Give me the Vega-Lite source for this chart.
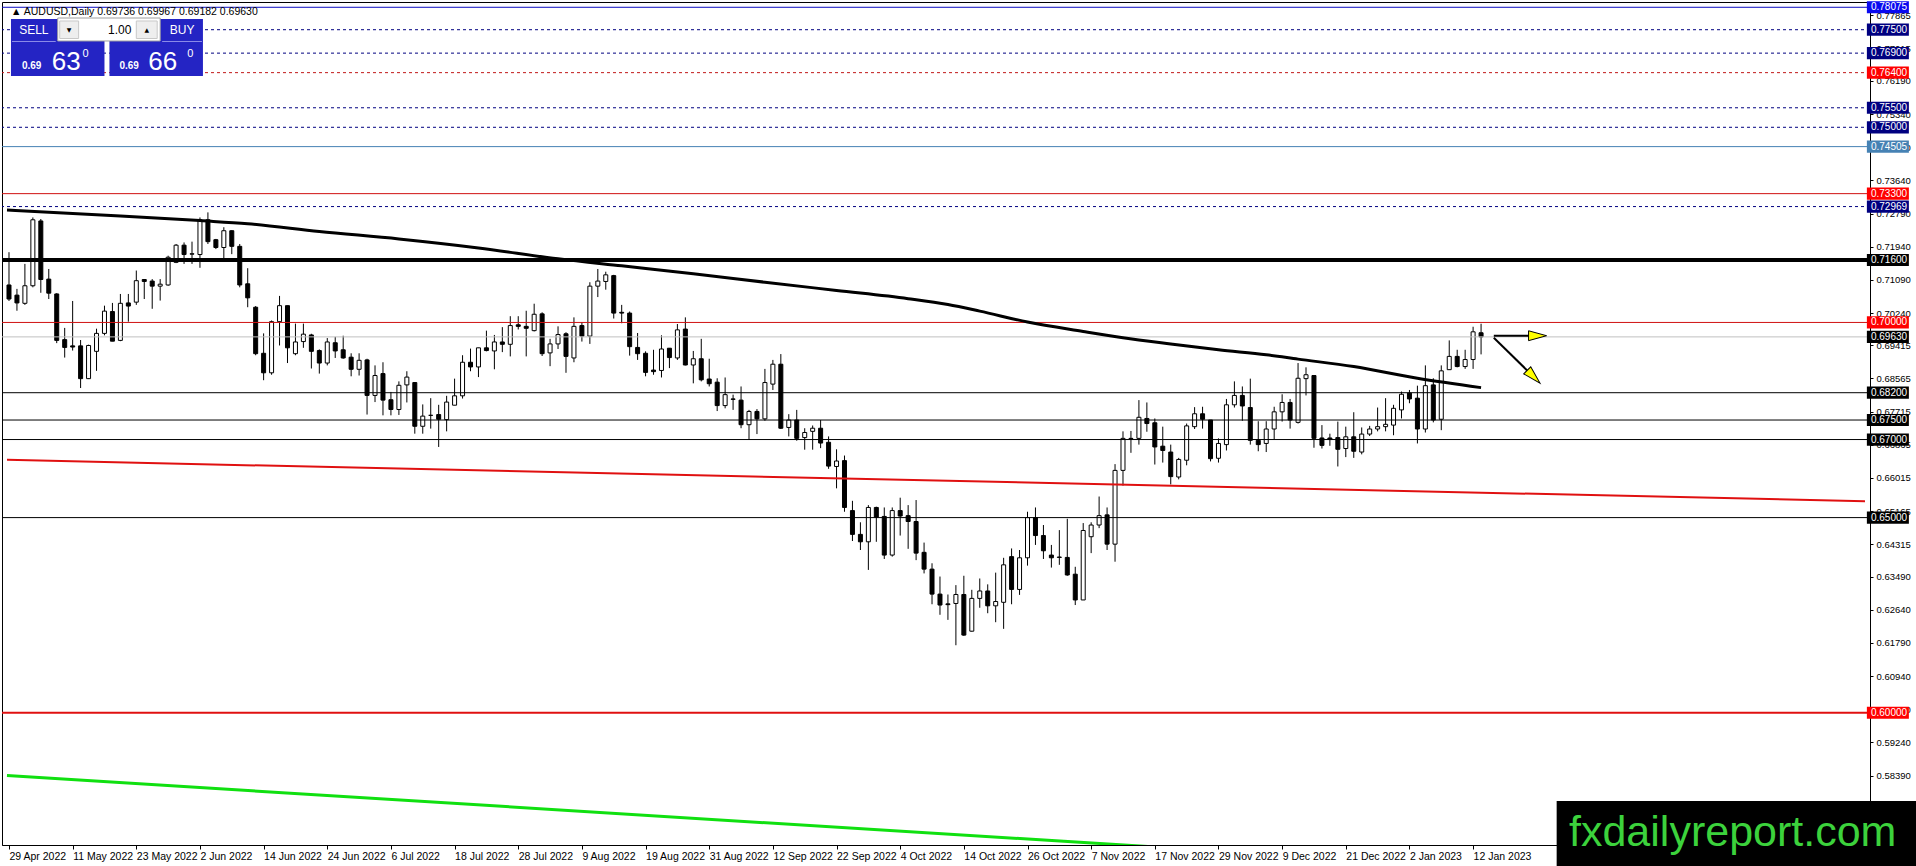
{
  "$schema": "https://vega.github.io/schema/vega-lite/v6.json",
  "width": 1868,
  "height": 843,
  "autosize": {"type": "none"},
  "padding": {"left": 2, "top": 2, "right": 46, "bottom": 21},
  "background": "#ffffff",
  "datasets": {
    "bars": [
      {"i":0,"o":0.7096,"h":0.7180,"l":0.7055,"c":0.7060},
      {"i":1,"o":0.7070,"h":0.7086,"l":0.7030,"c":0.7050},
      {"i":2,"o":0.7049,"h":0.7150,"l":0.7045,"c":0.7094},
      {"i":3,"o":0.7094,"h":0.7269,"l":0.7090,"c":0.7263},
      {"i":4,"o":0.7260,"h":0.7265,"l":0.7076,"c":0.7110},
      {"i":5,"o":0.7111,"h":0.7137,"l":0.7060,"c":0.7075},
      {"i":6,"o":0.7073,"h":0.7075,"l":0.6947,"c":0.6954},
      {"i":7,"o":0.6956,"h":0.6986,"l":0.6910,"c":0.6936},
      {"i":8,"o":0.6940,"h":0.7055,"l":0.6928,"c":0.6937},
      {"i":9,"o":0.6940,"h":0.6955,"l":0.6832,"c":0.6856},
      {"i":10,"o":0.6856,"h":0.6943,"l":0.6855,"c":0.6941},
      {"i":11,"o":0.6926,"h":0.6984,"l":0.6876,"c":0.6972},
      {"i":12,"o":0.6972,"h":0.7043,"l":0.6967,"c":0.7029},
      {"i":13,"o":0.7028,"h":0.7050,"l":0.6952,"c":0.6952},
      {"i":14,"o":0.6954,"h":0.7073,"l":0.6952,"c":0.7049},
      {"i":15,"o":0.7050,"h":0.7073,"l":0.7002,"c":0.7042},
      {"i":16,"o":0.7052,"h":0.7133,"l":0.7045,"c":0.7107},
      {"i":17,"o":0.7110,"h":0.7111,"l":0.7060,"c":0.7105},
      {"i":18,"o":0.7106,"h":0.7111,"l":0.7035,"c":0.7093},
      {"i":19,"o":0.7093,"h":0.7111,"l":0.7056,"c":0.7098},
      {"i":20,"o":0.7096,"h":0.7171,"l":0.7094,"c":0.7167},
      {"i":21,"o":0.7154,"h":0.7201,"l":0.7152,"c":0.7198},
      {"i":22,"o":0.7198,"h":0.7205,"l":0.7150,"c":0.7174},
      {"i":23,"o":0.7175,"h":0.7207,"l":0.7150,"c":0.7176},
      {"i":24,"o":0.7174,"h":0.7269,"l":0.7140,"c":0.7263},
      {"i":25,"o":0.7263,"h":0.7282,"l":0.7201,"c":0.7207},
      {"i":26,"o":0.7212,"h":0.7214,"l":0.7188,"c":0.7192},
      {"i":27,"o":0.7192,"h":0.7244,"l":0.7164,"c":0.7235},
      {"i":28,"o":0.7235,"h":0.7236,"l":0.7175,"c":0.7195},
      {"i":29,"o":0.7195,"h":0.7201,"l":0.7090,"c":0.7096},
      {"i":30,"o":0.7099,"h":0.7139,"l":0.7039,"c":0.7063},
      {"i":31,"o":0.7039,"h":0.7042,"l":0.6916,"c":0.6920},
      {"i":32,"o":0.6921,"h":0.6972,"l":0.6852,"c":0.6871},
      {"i":33,"o":0.6871,"h":0.7005,"l":0.6866,"c":0.7002},
      {"i":34,"o":0.7002,"h":0.7068,"l":0.6941,"c":0.7043},
      {"i":35,"o":0.7043,"h":0.7043,"l":0.6896,"c":0.6935},
      {"i":36,"o":0.6920,"h":0.6997,"l":0.6916,"c":0.6950},
      {"i":37,"o":0.6951,"h":0.6997,"l":0.6935,"c":0.6970},
      {"i":38,"o":0.6968,"h":0.6971,"l":0.6882,"c":0.6926},
      {"i":39,"o":0.6928,"h":0.6931,"l":0.6869,"c":0.6896},
      {"i":40,"o":0.6896,"h":0.6960,"l":0.6890,"c":0.6950},
      {"i":41,"o":0.6948,"h":0.6963,"l":0.6909,"c":0.6927},
      {"i":42,"o":0.6930,"h":0.6966,"l":0.6907,"c":0.6909},
      {"i":43,"o":0.6911,"h":0.6921,"l":0.6862,"c":0.6880},
      {"i":44,"o":0.6880,"h":0.6921,"l":0.6864,"c":0.6903},
      {"i":45,"o":0.6904,"h":0.6907,"l":0.6764,"c":0.6813},
      {"i":46,"o":0.6813,"h":0.6890,"l":0.6796,"c":0.6864},
      {"i":47,"o":0.6869,"h":0.6898,"l":0.6762,"c":0.6801},
      {"i":48,"o":0.6802,"h":0.6822,"l":0.6762,"c":0.6777},
      {"i":49,"o":0.6777,"h":0.6849,"l":0.6763,"c":0.6839},
      {"i":50,"o":0.6840,"h":0.6875,"l":0.6795,"c":0.6860},
      {"i":51,"o":0.6846,"h":0.6847,"l":0.6715,"c":0.6734},
      {"i":52,"o":0.6734,"h":0.6790,"l":0.6715,"c":0.6760},
      {"i":53,"o":0.6762,"h":0.6806,"l":0.6728,"c":0.6762},
      {"i":54,"o":0.6764,"h":0.6789,"l":0.6681,"c":0.6752},
      {"i":55,"o":0.6751,"h":0.6812,"l":0.6721,"c":0.6796},
      {"i":56,"o":0.6788,"h":0.6856,"l":0.6788,"c":0.6812},
      {"i":57,"o":0.6812,"h":0.6916,"l":0.6805,"c":0.6898},
      {"i":58,"o":0.6898,"h":0.6933,"l":0.6875,"c":0.6886},
      {"i":59,"o":0.6886,"h":0.6935,"l":0.6860,"c":0.6935},
      {"i":60,"o":0.6935,"h":0.6979,"l":0.6926,"c":0.6928},
      {"i":61,"o":0.6927,"h":0.6968,"l":0.6880,"c":0.6950},
      {"i":62,"o":0.6950,"h":0.6988,"l":0.6924,"c":0.6944},
      {"i":63,"o":0.6944,"h":0.7016,"l":0.6913,"c":0.6992},
      {"i":64,"o":0.6994,"h":0.7016,"l":0.6982,"c":0.6990},
      {"i":65,"o":0.6990,"h":0.7030,"l":0.6913,"c":0.6985},
      {"i":66,"o":0.6979,"h":0.7048,"l":0.6977,"c":0.7021},
      {"i":67,"o":0.7022,"h":0.7026,"l":0.6914,"c":0.6920},
      {"i":68,"o":0.6922,"h":0.6958,"l":0.6888,"c":0.6945},
      {"i":69,"o":0.6945,"h":0.6990,"l":0.6932,"c":0.6969},
      {"i":70,"o":0.6971,"h":0.6975,"l":0.6871,"c":0.6913},
      {"i":71,"o":0.6909,"h":0.7013,"l":0.6898,"c":0.6990},
      {"i":72,"o":0.6992,"h":0.7001,"l":0.6951,"c":0.6965},
      {"i":73,"o":0.6965,"h":0.7103,"l":0.6945,"c":0.7093},
      {"i":74,"o":0.7093,"h":0.7137,"l":0.7065,"c":0.7106},
      {"i":75,"o":0.7105,"h":0.7130,"l":0.7084,"c":0.7122},
      {"i":76,"o":0.7120,"h":0.7122,"l":0.7010,"c":0.7024},
      {"i":77,"o":0.7026,"h":0.7045,"l":0.6998,"c":0.7024},
      {"i":78,"o":0.7024,"h":0.7028,"l":0.6915,"c":0.6938},
      {"i":79,"o":0.6936,"h":0.6973,"l":0.6904,"c":0.6920},
      {"i":80,"o":0.6921,"h":0.6926,"l":0.6862,"c":0.6872},
      {"i":81,"o":0.6878,"h":0.6930,"l":0.6866,"c":0.6874},
      {"i":82,"o":0.6877,"h":0.6967,"l":0.6859,"c":0.6932},
      {"i":83,"o":0.6934,"h":0.6934,"l":0.6883,"c":0.6910},
      {"i":84,"o":0.6909,"h":0.6996,"l":0.6904,"c":0.6981},
      {"i":85,"o":0.6983,"h":0.7013,"l":0.6890,"c":0.6891},
      {"i":86,"o":0.6891,"h":0.6927,"l":0.6844,"c":0.6907},
      {"i":87,"o":0.6907,"h":0.6958,"l":0.6849,"c":0.6853},
      {"i":88,"o":0.6855,"h":0.6907,"l":0.6836,"c":0.6843},
      {"i":89,"o":0.6847,"h":0.6857,"l":0.6773,"c":0.6787},
      {"i":90,"o":0.6787,"h":0.6859,"l":0.6780,"c":0.6815},
      {"i":91,"o":0.6804,"h":0.6815,"l":0.6776,"c":0.6803},
      {"i":92,"o":0.6801,"h":0.6836,"l":0.6729,"c":0.6738},
      {"i":93,"o":0.6738,"h":0.6776,"l":0.6699,"c":0.6772},
      {"i":94,"o":0.6772,"h":0.6778,"l":0.6714,"c":0.6753},
      {"i":95,"o":0.6753,"h":0.6881,"l":0.6748,"c":0.6846},
      {"i":96,"o":0.6842,"h":0.6904,"l":0.6827,"c":0.6893},
      {"i":97,"o":0.6893,"h":0.6919,"l":0.6727,"c":0.6729},
      {"i":98,"o":0.6731,"h":0.6765,"l":0.6708,"c":0.6750},
      {"i":99,"o":0.6750,"h":0.6776,"l":0.6697,"c":0.6703},
      {"i":100,"o":0.6705,"h":0.6729,"l":0.6674,"c":0.6718},
      {"i":101,"o":0.6721,"h":0.6736,"l":0.6674,"c":0.6729},
      {"i":102,"o":0.6729,"h":0.6750,"l":0.6678,"c":0.6691},
      {"i":103,"o":0.6693,"h":0.6708,"l":0.6625,"c":0.6632},
      {"i":104,"o":0.6631,"h":0.6675,"l":0.6575,"c":0.6645},
      {"i":105,"o":0.6646,"h":0.6659,"l":0.6515,"c":0.6526},
      {"i":106,"o":0.6518,"h":0.6543,"l":0.6440,"c":0.6457},
      {"i":107,"o":0.6457,"h":0.6488,"l":0.6417,"c":0.6438},
      {"i":108,"o":0.6438,"h":0.6532,"l":0.6366,"c":0.6526},
      {"i":109,"o":0.6526,"h":0.6528,"l":0.6438,"c":0.6501},
      {"i":110,"o":0.6503,"h":0.6526,"l":0.6394,"c":0.6404},
      {"i":111,"o":0.6404,"h":0.6526,"l":0.6400,"c":0.6518},
      {"i":112,"o":0.6518,"h":0.6551,"l":0.6454,"c":0.6504},
      {"i":113,"o":0.6505,"h":0.6532,"l":0.6420,"c":0.6490},
      {"i":114,"o":0.6490,"h":0.6545,"l":0.6391,"c":0.6409},
      {"i":115,"o":0.6411,"h":0.6436,"l":0.6357,"c":0.6368},
      {"i":116,"o":0.6368,"h":0.6383,"l":0.6278,"c":0.6304},
      {"i":117,"o":0.6304,"h":0.6349,"l":0.6251,"c":0.6276},
      {"i":118,"o":0.6279,"h":0.6303,"l":0.6238,"c":0.6277},
      {"i":119,"o":0.6280,"h":0.6327,"l":0.6173,"c":0.6303},
      {"i":120,"o":0.6303,"h":0.6351,"l":0.6197,"c":0.6199},
      {"i":121,"o":0.6209,"h":0.6315,"l":0.6208,"c":0.6293},
      {"i":122,"o":0.6293,"h":0.6344,"l":0.6269,"c":0.6312},
      {"i":123,"o":0.6312,"h":0.6329,"l":0.6255,"c":0.6274},
      {"i":124,"o":0.6274,"h":0.6359,"l":0.6232,"c":0.6285},
      {"i":125,"o":0.6283,"h":0.6397,"l":0.6215,"c":0.6379},
      {"i":126,"o":0.6400,"h":0.6421,"l":0.6278,"c":0.6316},
      {"i":127,"o":0.6316,"h":0.6417,"l":0.6302,"c":0.6397},
      {"i":128,"o":0.6397,"h":0.6515,"l":0.6377,"c":0.6500},
      {"i":129,"o":0.6500,"h":0.6526,"l":0.6430,"c":0.6454},
      {"i":130,"o":0.6454,"h":0.6481,"l":0.6394,"c":0.6415},
      {"i":131,"o":0.6404,"h":0.6430,"l":0.6372,"c":0.6397},
      {"i":132,"o":0.6399,"h":0.6468,"l":0.6379,"c":0.6398},
      {"i":133,"o":0.6398,"h":0.6497,"l":0.6351,"c":0.6353},
      {"i":134,"o":0.6355,"h":0.6374,"l":0.6276,"c":0.6289},
      {"i":135,"o":0.6289,"h":0.6486,"l":0.6289,"c":0.6467},
      {"i":136,"o":0.6451,"h":0.6488,"l":0.6409,"c":0.6481},
      {"i":137,"o":0.6481,"h":0.6554,"l":0.6473,"c":0.6505},
      {"i":138,"o":0.6507,"h":0.6526,"l":0.6417,"c":0.6432},
      {"i":139,"o":0.6432,"h":0.6637,"l":0.6387,"c":0.6621},
      {"i":140,"o":0.6621,"h":0.6721,"l":0.6582,"c":0.6703},
      {"i":141,"o":0.6703,"h":0.6722,"l":0.6666,"c":0.6702},
      {"i":142,"o":0.6703,"h":0.6801,"l":0.6687,"c":0.6757},
      {"i":143,"o":0.6754,"h":0.6795,"l":0.6720,"c":0.6741},
      {"i":144,"o":0.6743,"h":0.6754,"l":0.6636,"c":0.6681},
      {"i":145,"o":0.6683,"h":0.6733,"l":0.6641,"c":0.6672},
      {"i":146,"o":0.6668,"h":0.6687,"l":0.6585,"c":0.6605},
      {"i":147,"o":0.6604,"h":0.6653,"l":0.6598,"c":0.6649},
      {"i":148,"o":0.6647,"h":0.6741,"l":0.6634,"c":0.6735},
      {"i":149,"o":0.6733,"h":0.6783,"l":0.6727,"c":0.6766},
      {"i":150,"o":0.6766,"h":0.6784,"l":0.6728,"c":0.6752},
      {"i":151,"o":0.6750,"h":0.6750,"l":0.6644,"c":0.6651},
      {"i":152,"o":0.6652,"h":0.6703,"l":0.6641,"c":0.6690},
      {"i":153,"o":0.6687,"h":0.6804,"l":0.6672,"c":0.6789},
      {"i":154,"o":0.6789,"h":0.6849,"l":0.6782,"c":0.6813},
      {"i":155,"o":0.6813,"h":0.6836,"l":0.6748,"c":0.6786},
      {"i":156,"o":0.6782,"h":0.6856,"l":0.6687,"c":0.6698},
      {"i":157,"o":0.6698,"h":0.6747,"l":0.6670,"c":0.6687},
      {"i":158,"o":0.6690,"h":0.6747,"l":0.6668,"c":0.6727},
      {"i":159,"o":0.6727,"h":0.6784,"l":0.6700,"c":0.6771},
      {"i":160,"o":0.6771,"h":0.6816,"l":0.6746,"c":0.6795},
      {"i":161,"o":0.6795,"h":0.6804,"l":0.6728,"c":0.6750},
      {"i":162,"o":0.6744,"h":0.6896,"l":0.6741,"c":0.6857},
      {"i":163,"o":0.6856,"h":0.6885,"l":0.6813,"c":0.6866},
      {"i":164,"o":0.6864,"h":0.6864,"l":0.6679,"c":0.6703},
      {"i":165,"o":0.6704,"h":0.6737,"l":0.6677,"c":0.6685},
      {"i":166,"o":0.6704,"h":0.6715,"l":0.6684,"c":0.6700},
      {"i":167,"o":0.6705,"h":0.6746,"l":0.6631,"c":0.6675},
      {"i":168,"o":0.6677,"h":0.6733,"l":0.6655,"c":0.6707},
      {"i":169,"o":0.6707,"h":0.6770,"l":0.6653,"c":0.6670},
      {"i":170,"o":0.6668,"h":0.6731,"l":0.6662,"c":0.6714},
      {"i":171,"o":0.6714,"h":0.6735,"l":0.6709,"c":0.6727},
      {"i":172,"o":0.6727,"h":0.6782,"l":0.6721,"c":0.6733},
      {"i":173,"o":0.6733,"h":0.6806,"l":0.6721,"c":0.6739},
      {"i":174,"o":0.6737,"h":0.6789,"l":0.6711,"c":0.6780},
      {"i":175,"o":0.6776,"h":0.6823,"l":0.6754,"c":0.6816},
      {"i":176,"o":0.6819,"h":0.6827,"l":0.6793,"c":0.6804},
      {"i":177,"o":0.6806,"h":0.6838,"l":0.6690,"c":0.6727},
      {"i":178,"o":0.6727,"h":0.6890,"l":0.6718,"c":0.6838},
      {"i":179,"o":0.6840,"h":0.6857,"l":0.6744,"c":0.6750},
      {"i":180,"o":0.6752,"h":0.6890,"l":0.6724,"c":0.6876},
      {"i":181,"o":0.6879,"h":0.6954,"l":0.6879,"c":0.6913},
      {"i":182,"o":0.6913,"h":0.6930,"l":0.6885,"c":0.6887},
      {"i":183,"o":0.6887,"h":0.6930,"l":0.6881,"c":0.6905},
      {"i":184,"o":0.6905,"h":0.6989,"l":0.6881,"c":0.6976},
      {"i":185,"o":0.69736,"h":0.69967,"l":0.69182,"c":0.69630}
    ],
    "ma": [
      {"i":-0.25,"v":0.7288},{"i":14,"v":0.7273},{"i":24,"v":0.7261},{"i":30,"v":0.7253},
      {"i":39,"v":0.7233},{"i":49,"v":0.7214},{"i":59,"v":0.7191},{"i":69,"v":0.7163},
      {"i":77,"v":0.7145},{"i":86,"v":0.7125},{"i":95,"v":0.7103},{"i":104,"v":0.7082},
      {"i":113,"v":0.7061},{"i":118,"v":0.7046},{"i":122,"v":0.7029},{"i":128,"v":0.7001},
      {"i":135,"v":0.6977},{"i":140,"v":0.6961},{"i":146,"v":0.6945},{"i":152,"v":0.6930},
      {"i":158,"v":0.6917},{"i":162,"v":0.6906},{"i":169,"v":0.6887},{"i":177,"v":0.6857},
      {"i":185,"v":0.6833}
    ],
    "trend": [
      {"line":"red","i":-0.25,"v":0.6648},
      {"line":"red","i":233.25,"v":0.6542},
      {"line":"green","i":-0.25,"v":0.5839},
      {"line":"green","i":145,"v":0.5655}
    ],
    "levels": [
      {"p":0.78075,"k":"top"},
      {"p":0.775,"k":"navy"},
      {"p":0.769,"k":"navy"},
      {"p":0.764,"k":"reddash"},
      {"p":0.755,"k":"navy"},
      {"p":0.75,"k":"navy"},
      {"p":0.74505,"k":"steel"},
      {"p":0.733,"k":"red"},
      {"p":0.72969,"k":"navy"},
      {"p":0.716,"k":"thick"},
      {"p":0.70,"k":"red"},
      {"p":0.6963,"k":"bid"},
      {"p":0.682,"k":"black"},
      {"p":0.675,"k":"black"},
      {"p":0.67,"k":"black"},
      {"p":0.65,"k":"black"},
      {"p":0.60,"k":"red2"}
    ]
  },
  "layer": [
    {
      "data": {"name": "bars"},
      "mark": {"type": "rule", "color": "#000000", "strokeWidth": 1},
      "encoding": {
        "x": {
          "field": "i", "type": "quantitative", "title": null,
          "scale": {"domain": [-0.25, 233.25], "nice": false, "zero": false},
          "axis": {
            "orient": "bottom", "title": null, "grid": false, "tickCount": 40,
            "values": [0,8,16,24,32,40,48,56,64,72,80,88,96,104,112,120,128,136,144,152,160,168,176,184],
            "labelExpr": "['29 Apr 2022','11 May 2022','23 May 2022','2 Jun 2022','14 Jun 2022','24 Jun 2022','6 Jul 2022','18 Jul 2022','28 Jul 2022','9 Aug 2022','19 Aug 2022','31 Aug 2022','12 Sep 2022','22 Sep 2022','4 Oct 2022','14 Oct 2022','26 Oct 2022','7 Nov 2022','17 Nov 2022','29 Nov 2022','9 Dec 2022','21 Dec 2022','2 Jan 2023','12 Jan 2023'][round(datum.value/8)]",
            "labelAlign": "left", "labelDx": 1, "labelFontSize": 10.5, "labelPadding": 2,
            "tickSize": 4, "labelOverlap": false, "labelFlush": false, "labelBound": false
          }
        },
        "y": {
          "field": "l", "type": "quantitative", "title": null,
          "scale": {"domain": [0.56612, 0.7821], "nice": false, "zero": false},
          "axis": {
            "orient": "right", "title": null, "grid": false, "format": ".5f", "tickCount": 40,
            "values": [0.77865,0.77015,0.7619,0.7534,0.7449,0.7364,0.7279,0.7194,0.7109,0.7024,0.69415,0.68565,0.67715,0.66865,0.66015,0.65165,0.64315,0.6349,0.6264,0.6179,0.6094,0.6009,0.5924,0.5839,0.5754],
            "labelFontSize": 9.5, "tickSize": 3, "labelPadding": 3,
            "labelOverlap": false, "labelFlush": false, "labelBound": false
          }
        },
        "y2": {"field": "h"}
      }
    },
    {
      "data": {"name": "bars"},
      "mark": {"type": "bar", "width": 4, "stroke": "#000000", "strokeWidth": 1},
      "encoding": {
        "x": {"field": "i", "type": "quantitative", "title": null},
        "y": {"field": "o", "type": "quantitative", "title": null},
        "y2": {"field": "c"},
        "fill": {"condition": {"test": "datum.c < datum.o", "value": "#000000"}, "value": "#ffffff"}
      }
    },
    {
      "data": {"name": "levels"},
      "transform": [{"filter": "indexof(['top','steel','red','bid','black'], datum.k) >= 0"}],
      "mark": {"type": "rule", "strokeWidth": 1},
      "encoding": {
        "y": {"field": "p", "type": "quantitative", "title": null},
        "color": {
          "field": "k", "type": "nominal", "legend": null,
          "scale": {
            "domain": ["top","navy","reddash","steel","red","thick","bid","black","red2"],
            "range": ["#0a0ac0","#000080","#c01818","#4682b4","#d01010","#000000","#c0c0c0","#000000","#e01010"]
          }
        }
      }
    },
    {
      "data": {"name": "levels"},
      "transform": [{"filter": "datum.k == 'navy' || datum.k == 'reddash'"}],
      "mark": {"type": "rule", "strokeWidth": 1, "strokeDash": [3, 3]},
      "encoding": {
        "y": {"field": "p", "type": "quantitative", "title": null},
        "color": {
          "field": "k", "type": "nominal", "legend": null,
          "scale": {
            "domain": ["top","navy","reddash","steel","red","thick","bid","black","red2"],
            "range": ["#0a0ac0","#000080","#c01818","#4682b4","#d01010","#000000","#c0c0c0","#000000","#e01010"]
          }
        }
      }
    },
    {
      "data": {"name": "levels"},
      "transform": [{"filter": "datum.k == 'thick'"}],
      "mark": {"type": "rule", "strokeWidth": 4, "color": "#000000"},
      "encoding": {"y": {"field": "p", "type": "quantitative", "title": null}}
    },
    {
      "data": {"name": "levels"},
      "transform": [{"filter": "datum.k == 'red2'"}],
      "mark": {"type": "rule", "strokeWidth": 2, "color": "#e01010"},
      "encoding": {"y": {"field": "p", "type": "quantitative", "title": null}}
    },
    {
      "data": {"name": "trend"},
      "transform": [{"filter": "datum.line == 'red'"}],
      "mark": {"type": "line", "strokeWidth": 2, "color": "#e01010", "clip": true},
      "encoding": {
        "x": {"field": "i", "type": "quantitative", "title": null},
        "y": {"field": "v", "type": "quantitative", "title": null}
      }
    },
    {
      "data": {"name": "trend"},
      "transform": [{"filter": "datum.line == 'green'"}],
      "mark": {"type": "line", "strokeWidth": 3, "color": "#10e010", "clip": true},
      "encoding": {
        "x": {"field": "i", "type": "quantitative", "title": null},
        "y": {"field": "v", "type": "quantitative", "title": null}
      }
    },
    {
      "data": {"name": "ma"},
      "mark": {"type": "line", "strokeWidth": 3, "color": "#000000", "interpolate": "monotone"},
      "encoding": {
        "x": {"field": "i", "type": "quantitative", "title": null},
        "y": {"field": "v", "type": "quantitative", "title": null}
      }
    },
    {
      "data": {"values": [{}]},
      "mark": {"type": "rule", "strokeWidth": 2, "color": "#000000"},
      "encoding": {
        "x": {"datum": 186.6, "type": "quantitative", "title": null},
        "x2": {"datum": 191.5},
        "y": {"datum": 0.6966, "type": "quantitative", "title": null}
      }
    },
    {
      "data": {"values": [{}]},
      "mark": {"type": "rule", "strokeWidth": 2, "color": "#000000"},
      "encoding": {
        "x": {"datum": 186.6, "type": "quantitative", "title": null},
        "x2": {"datum": 191.6},
        "y": {"datum": 0.6961, "type": "quantitative", "title": null},
        "y2": {"datum": 0.6861}
      }
    },
    {
      "data": {"values": [{}]},
      "mark": {"type": "point", "shape": "M-1,-0.55L1,0L-1,0.55Z", "size": 324, "filled": true, "fill": "#ffff00", "stroke": "#000000", "strokeWidth": 1, "opacity": 1, "angle": 0},
      "encoding": {
        "x": {"datum": 192.1, "type": "quantitative", "title": null},
        "y": {"datum": 0.6966, "type": "quantitative", "title": null}
      }
    },
    {
      "data": {"values": [{}]},
      "mark": {"type": "point", "shape": "M-1,-0.55L1,0L-1,0.55Z", "size": 324, "filled": true, "fill": "#ffff00", "stroke": "#000000", "strokeWidth": 1, "opacity": 1, "angle": 45},
      "encoding": {
        "x": {"datum": 191.6, "type": "quantitative", "title": null},
        "y": {"datum": 0.6861, "type": "quantitative", "title": null}
      }
    },
    {
      "data": {"name": "levels"},
      "mark": {"type": "point", "shape": "M-1,-0.29L1,-0.29L1,0.29L-1,0.29Z", "size": 1764, "filled": true, "opacity": 1, "strokeWidth": 0},
      "encoding": {
        "x": {"datum": 236.125, "type": "quantitative", "title": null},
        "y": {"field": "p", "type": "quantitative", "title": null},
        "fill": {
          "field": "k", "type": "nominal", "legend": null,
          "scale": {
            "domain": ["top","navy","reddash","steel","red","thick","bid","black","red2"],
            "range": ["#0a0af0","#000080","#ff0000","#4682b4","#ff0000","#000000","#000000","#000000","#ff0000"]
          }
        }
      }
    },
    {
      "data": {"name": "levels"},
      "mark": {"type": "text", "align": "left", "baseline": "middle", "font": "Liberation Sans", "fontSize": 10, "color": "#ffffff"},
      "encoding": {
        "x": {"datum": 234.0, "type": "quantitative", "title": null},
        "y": {"field": "p", "type": "quantitative", "title": null},
        "text": {"field": "p", "type": "quantitative", "format": ".5f"}
      }
    },
    {
      "data": {"values": [{}]},
      "mark": {"type": "rect", "fill": "#000000"},
      "encoding": {
        "x": {"datum": 194.5, "type": "quantitative", "title": null},
        "x2": {"datum": 240.1},
        "y": {"datum": 0.57739, "type": "quantitative", "title": null},
        "y2": {"datum": 0.55971}
      }
    },
    {
      "data": {"values": [{}]},
      "mark": {"type": "text", "text": "fxdailyreport.com", "align": "center", "baseline": "middle", "font": "Liberation Sans", "fontSize": 43, "color": "#3cd23c"},
      "encoding": {
        "x": {"datum": 216.625, "type": "quantitative", "title": null},
        "y": {"datum": 0.56919, "type": "quantitative", "title": null}
      }
    },
    {
      "data": {"values": [{}]},
      "mark": {"type": "rect", "fill": "#2424c4"},
      "encoding": {
        "x": {"datum": 0.25, "type": "quantitative", "title": null},
        "x2": {"datum": 12.0},
        "y": {"datum": 0.77775, "type": "quantitative", "title": null},
        "y2": {"datum": 0.76314}
      }
    },
    {
      "data": {"values": [{}]},
      "mark": {"type": "rect", "fill": "#2424c4"},
      "encoding": {
        "x": {"datum": 12.625, "type": "quantitative", "title": null},
        "x2": {"datum": 24.375},
        "y": {"datum": 0.77775, "type": "quantitative", "title": null},
        "y2": {"datum": 0.76314}
      }
    },
    {
      "data": {"values": [{}]},
      "mark": {"type": "rule", "color": "#8c8ce8", "strokeWidth": 1},
      "encoding": {
        "x": {"datum": 0.375, "type": "quantitative", "title": null},
        "x2": {"datum": 5.875},
        "y": {"datum": 0.77198, "type": "quantitative", "title": null}
      }
    },
    {
      "data": {"values": [{}]},
      "mark": {"type": "rule", "color": "#8c8ce8", "strokeWidth": 1},
      "encoding": {
        "x": {"datum": 19.25, "type": "quantitative", "title": null},
        "x2": {"datum": 24.25},
        "y": {"datum": 0.77198, "type": "quantitative", "title": null}
      }
    },
    {
      "data": {"values": [{}]},
      "mark": {"type": "rect", "fill": "#ffffff", "stroke": "#a0a0a0", "strokeWidth": 1},
      "encoding": {
        "x": {"datum": 6.125, "type": "quantitative", "title": null},
        "x2": {"datum": 19.0},
        "y": {"datum": 0.778, "type": "quantitative", "title": null},
        "y2": {"datum": 0.77211}
      }
    },
    {
      "data": {"values": [{}]},
      "mark": {"type": "rect", "fill": "#eeeeee", "stroke": "#c8c8c8", "strokeWidth": 1},
      "encoding": {
        "x": {"datum": 6.375, "type": "quantitative", "title": null},
        "x2": {"datum": 8.75},
        "y": {"datum": 0.77724, "type": "quantitative", "title": null},
        "y2": {"datum": 0.77275}
      }
    },
    {
      "data": {"values": [{}]},
      "mark": {"type": "rect", "fill": "#eeeeee", "stroke": "#c8c8c8", "strokeWidth": 1},
      "encoding": {
        "x": {"datum": 16.0, "type": "quantitative", "title": null},
        "x2": {"datum": 18.625},
        "y": {"datum": 0.77724, "type": "quantitative", "title": null},
        "y2": {"datum": 0.77275}
      }
    },
    {
      "data": {"values": [{}]},
      "mark": {"type": "text", "text": "SELL", "align": "center", "baseline": "middle", "font": "Liberation Sans", "fontSize": 12, "color": "#ffffff"},
      "encoding": {
        "x": {"datum": 3.125, "type": "quantitative", "title": null},
        "y": {"datum": 0.7748, "type": "quantitative", "title": null}
      }
    },
    {
      "data": {"values": [{}]},
      "mark": {"type": "text", "text": "BUY", "align": "center", "baseline": "middle", "font": "Liberation Sans", "fontSize": 12, "color": "#ffffff"},
      "encoding": {
        "x": {"datum": 21.75, "type": "quantitative", "title": null},
        "y": {"datum": 0.7748, "type": "quantitative", "title": null}
      }
    },
    {
      "data": {"values": [{}]},
      "mark": {"type": "text", "text": "1.00", "align": "right", "baseline": "middle", "font": "Liberation Sans", "fontSize": 12, "color": "#000000"},
      "encoding": {
        "x": {"datum": 15.375, "type": "quantitative", "title": null},
        "y": {"datum": 0.7748, "type": "quantitative", "title": null}
      }
    },
    {
      "data": {"values": [{}]},
      "mark": {"type": "text", "text": "▼", "align": "center", "baseline": "middle", "font": "DejaVu Sans", "fontSize": 6, "color": "#000000"},
      "encoding": {
        "x": {"datum": 7.5625, "type": "quantitative", "title": null},
        "y": {"datum": 0.7748, "type": "quantitative", "title": null}
      }
    },
    {
      "data": {"values": [{}]},
      "mark": {"type": "text", "text": "▲", "align": "center", "baseline": "middle", "font": "DejaVu Sans", "fontSize": 6, "color": "#000000"},
      "encoding": {
        "x": {"datum": 17.3125, "type": "quantitative", "title": null},
        "y": {"datum": 0.7748, "type": "quantitative", "title": null}
      }
    },
    {
      "data": {"values": [{}]},
      "mark": {"type": "text", "text": "0.69", "align": "left", "baseline": "alphabetic", "font": "Liberation Sans", "fontSize": 10, "fontWeight": "bold", "color": "#ffffff"},
      "encoding": {
        "x": {"datum": 1.625, "type": "quantitative", "title": null},
        "y": {"datum": 0.76494, "type": "quantitative", "title": null}
      }
    },
    {
      "data": {"values": [{}]},
      "mark": {"type": "text", "text": "63", "align": "left", "baseline": "alphabetic", "font": "Liberation Sans", "fontSize": 26, "color": "#ffffff"},
      "encoding": {
        "x": {"datum": 5.375, "type": "quantitative", "title": null},
        "y": {"datum": 0.76468, "type": "quantitative", "title": null}
      }
    },
    {
      "data": {"values": [{}]},
      "mark": {"type": "text", "text": "0", "align": "left", "baseline": "alphabetic", "font": "Liberation Sans", "fontSize": 11, "color": "#ffffff"},
      "encoding": {
        "x": {"datum": 9.25, "type": "quantitative", "title": null},
        "y": {"datum": 0.76801, "type": "quantitative", "title": null}
      }
    },
    {
      "data": {"values": [{}]},
      "mark": {"type": "text", "text": "0.69", "align": "left", "baseline": "alphabetic", "font": "Liberation Sans", "fontSize": 10, "fontWeight": "bold", "color": "#ffffff"},
      "encoding": {
        "x": {"datum": 13.875, "type": "quantitative", "title": null},
        "y": {"datum": 0.76494, "type": "quantitative", "title": null}
      }
    },
    {
      "data": {"values": [{}]},
      "mark": {"type": "text", "text": "66", "align": "left", "baseline": "alphabetic", "font": "Liberation Sans", "fontSize": 26, "color": "#ffffff"},
      "encoding": {
        "x": {"datum": 17.5, "type": "quantitative", "title": null},
        "y": {"datum": 0.76468, "type": "quantitative", "title": null}
      }
    },
    {
      "data": {"values": [{}]},
      "mark": {"type": "text", "text": "0", "align": "left", "baseline": "alphabetic", "font": "Liberation Sans", "fontSize": 11, "color": "#ffffff"},
      "encoding": {
        "x": {"datum": 22.4, "type": "quantitative", "title": null},
        "y": {"datum": 0.76801, "type": "quantitative", "title": null}
      }
    },
    {
      "data": {"values": [{}]},
      "mark": {"type": "text", "text": "▲ AUDUSD,Daily  0.69736 0.69967 0.69182 0.69630", "align": "left", "baseline": "middle", "font": "Liberation Sans", "fontSize": 10.5, "color": "#000000"},
      "encoding": {
        "x": {"datum": 0.25, "type": "quantitative", "title": null},
        "y": {"datum": 0.77962, "type": "quantitative", "title": null}
      }
    }
  ],
  "config": {
    "view": {"stroke": "#000000", "strokeWidth": 1},
    "axis": {
      "domainColor": "#000000",
      "tickColor": "#000000",
      "labelColor": "#000000",
      "labelFont": "Liberation Sans",
      "grid": false
    }
  }
}
